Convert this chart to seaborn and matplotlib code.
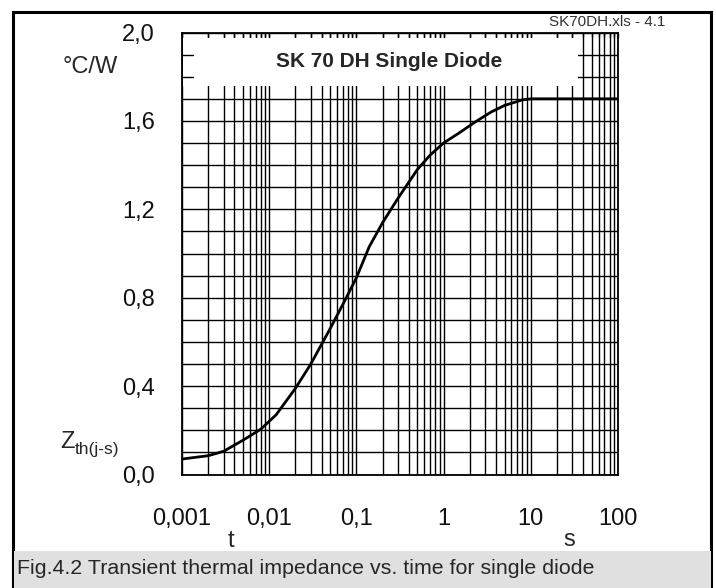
import numpy as np
import matplotlib
matplotlib.use('Agg')
import matplotlib.pyplot as plt
import seaborn as sns
from matplotlib.ticker import LogLocator, MultipleLocator, NullFormatter
from matplotlib.patches import Rectangle

W, H = 716, 588

# transient thermal impedance
time_s = [0.001, 0.002, 0.003, 0.005, 0.008, 0.012, 0.02, 0.03, 0.05, 0.07,
          0.1, 0.14, 0.2, 0.3, 0.5, 0.7, 1, 1.5, 2.3, 3.5, 5, 8, 10, 100]
zth = [0.07, 0.085, 0.105, 0.155, 0.205, 0.27, 0.39, 0.50, 0.66, 0.77,
       0.89, 1.03, 1.14, 1.25, 1.38, 1.445, 1.50, 1.545, 1.595, 1.64, 1.67, 1.695, 1.70, 1.70]

x_ticks = [0.001, 0.01, 0.1, 1, 10, 100]
x_labels = ['0,001', '0,01', '0,1', '1', '10', '100']
y_ticks = [0.0, 0.4, 0.8, 1.2, 1.6, 2.0]
y_labels = ['0,0', '0,4', '0,8', '1,2', '1,6', '2,0']

sns.set_style('white')
plt.rcParams['font.family'] = ['Liberation Sans', 'DejaVu Sans']


def fx(px):
    return px / W


def fy(py):
    return 1 - py / H


fig = plt.figure(figsize=(W / 100, H / 100), dpi=100)
ax = fig.add_axes([fx(182), fy(474.5), 436 / W, 442 / H])
ax.set_xscale('log')
sns.lineplot(x=time_s, y=zth, ax=ax, color='black', linewidth=2, zorder=3)
ax.set_xlim(1e-3, 1e2)
ax.set_ylim(0, 2)
ax.set_xlabel('')
ax.set_ylabel('')

ax.set_xticks(x_ticks)
ax.set_xticklabels(x_labels)
ax.xaxis.set_minor_locator(LogLocator(base=10, subs=np.arange(2, 10), numticks=20))
ax.xaxis.set_minor_formatter(NullFormatter())
ax.set_yticks(y_ticks)
ax.set_yticklabels(y_labels)
ax.yaxis.set_minor_locator(MultipleLocator(0.1))

ax.grid(which='both', color='black', linewidth=1.0)
ax.tick_params(axis='x', which='both', bottom=False, top=True, direction='in',
               length=3, width=1, color='black', labelsize=17, pad=24, labelcolor='#111111')
ax.tick_params(axis='y', which='both', left=False, labelsize=17, pad=16, labelcolor='#111111')
for sp in ax.spines.values():
    sp.set_color('black')
    sp.set_linewidth(1.3)
    sp.set_zorder(4)

# white title box hiding the grid at the top
ax.add_patch(Rectangle((0.003, (474.5 - 86) / 442), (577 - 182) / 436, (86 - 38) / 442,
                       transform=ax.transAxes, facecolor='white', edgecolor='none', zorder=1))
for yv in (1.8, 1.9):
    ax.axhline(yv, xmin=0, xmax=11 / 436, color='black', lw=1, zorder=2)
ax.text(0.475, 0.935, 'SK 70 DH Single Diode', transform=ax.transAxes, ha='center',
        va='center', fontsize=15, fontweight='bold', zorder=5)

# labels outside the axes
fig.text(fx(90), fy(67), '°C/W', fontsize=17, ha='center', va='center')
fig.text(fx(60), fy(448), 'Z', fontsize=17, ha='left', va='baseline')
fig.text(fx(75), fy(454), 'th(j-s)', fontsize=12.5, ha='left', va='baseline')
fig.text(fx(231), fy(541), 't', fontsize=17, ha='center', va='center')
fig.text(fx(569), fy(540), 's', fontsize=17, ha='center', va='center')
fig.text(fx(665), fy(22), 'SK70DH.xls - 4.1', fontsize=11, ha='right', va='center', color='#333333')

# frame and caption bar
fig.add_artist(Rectangle((fx(12.5), -0.05), (710.5 - 12.5) / W, 1.05 - 11.5 / H,
                         transform=fig.transFigure, fill=False, edgecolor='black', lw=2.2, zorder=1))
fig.add_artist(Rectangle((fx(14), 0), (711 - 14) / W, 37 / H, transform=fig.transFigure,
                         facecolor='#e0e0e0', edgecolor='none', zorder=2))
fig.text(fx(17), fy(568), 'Fig.4.2 Transient thermal impedance vs. time for single diode',
         fontsize=15.4, ha='left', va='center', zorder=3)

fig.savefig('out.png', dpi=100)
